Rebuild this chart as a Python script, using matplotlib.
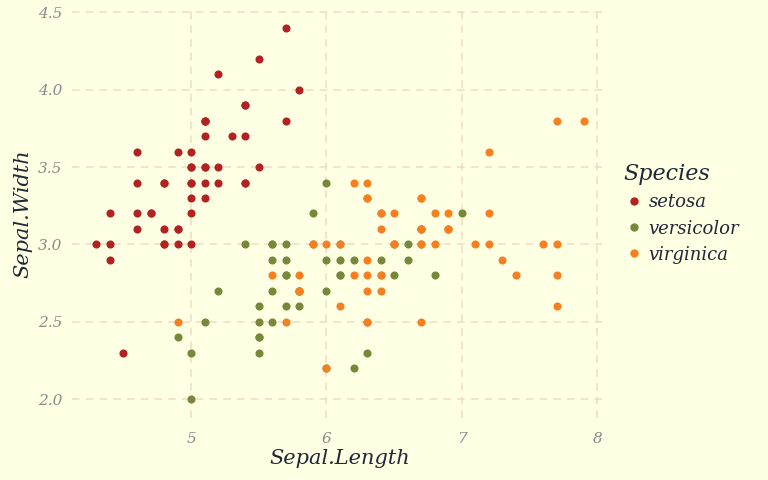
import matplotlib
matplotlib.use("Agg")
import matplotlib.pyplot as plt
from matplotlib.lines import Line2D

setosa_len = [5.1,4.9,4.7,4.6,5.0,5.4,4.6,5.0,4.4,4.9,5.4,4.8,4.8,4.3,5.8,5.7,5.4,5.1,5.7,5.1,
              5.4,5.1,4.6,5.1,4.8,5.0,5.0,5.2,5.2,4.7,4.8,5.4,5.2,5.5,4.9,5.0,5.5,4.9,4.4,5.1,
              5.0,4.5,4.4,5.0,5.1,4.8,5.1,4.6,5.3,5.0]
setosa_wid = [3.5,3.0,3.2,3.1,3.6,3.9,3.4,3.4,2.9,3.1,3.7,3.4,3.0,3.0,4.0,4.4,3.9,3.5,3.8,3.8,
              3.4,3.7,3.6,3.3,3.4,3.0,3.4,3.5,3.4,3.2,3.1,3.4,4.1,4.2,3.1,3.2,3.5,3.6,3.0,3.4,
              3.5,2.3,3.2,3.5,3.8,3.0,3.8,3.2,3.7,3.3]
versi_len = [7.0,6.4,6.9,5.5,6.5,5.7,6.3,4.9,6.6,5.2,5.0,5.9,6.0,6.1,5.6,6.7,5.6,5.8,6.2,5.6,
             5.9,6.1,6.3,6.1,6.4,6.6,6.8,6.7,6.0,5.7,5.5,5.5,5.8,6.0,5.4,6.0,6.7,6.3,5.6,5.5,
             5.5,6.1,5.8,5.0,5.6,5.7,5.7,6.2,5.1,5.7]
versi_wid = [3.2,3.2,3.1,2.3,2.8,2.8,3.3,2.4,2.9,2.7,2.0,3.0,2.2,2.9,2.9,3.1,3.0,2.7,2.2,2.5,
             3.2,2.8,2.5,2.8,2.9,3.0,2.8,3.0,2.9,2.6,2.4,2.4,2.7,2.7,3.0,3.4,3.1,2.3,3.0,2.5,
             2.6,3.0,2.6,2.3,2.7,3.0,2.9,2.9,2.5,2.8]
virg_len = [6.3,5.8,7.1,6.3,6.5,7.6,4.9,7.3,6.7,7.2,6.5,6.4,6.8,5.7,5.8,6.4,6.5,7.7,7.7,6.0,
            6.9,5.6,7.7,6.3,6.7,7.2,6.2,6.1,6.4,7.2,7.4,7.9,6.4,6.3,6.1,7.7,6.3,6.4,6.0,6.9,
            6.7,6.9,5.8,6.8,6.7,6.7,6.3,6.5,6.2,5.9]
virg_wid = [3.3,2.7,3.0,2.9,3.0,3.0,2.5,2.9,2.5,3.6,3.2,2.7,3.0,2.5,2.8,3.2,3.0,3.8,2.6,2.2,
            3.2,2.8,2.8,2.7,3.3,3.2,2.8,3.0,2.8,3.0,2.8,3.8,2.8,2.8,2.6,3.0,3.4,3.1,3.0,3.1,
            3.1,3.1,2.7,3.2,3.3,3.0,2.5,3.0,3.4,3.0]

species = ["setosa", "versicolor", "virginica"]
colors = ["#B22222", "#76893A", "#F77F20"]
x_ticks = [5, 6, 7, 8]
y_ticks = [2.0, 2.5, 3.0, 3.5, 4.0, 4.5]

bg = "#FFFFE3"
font = dict(family="DejaVu Serif", style="italic")

fig = plt.figure(figsize=(7.68, 4.8), dpi=100, facecolor=bg)
ax = fig.add_axes([72/768, 1-418/480, (608-72)/768, (418-9)/480], facecolor=bg)

data = [(setosa_len, setosa_wid), (versi_len, versi_wid), (virg_len, virg_wid)]
for (xs, ys), c in zip(data, colors):
    ax.scatter(xs, ys, s=34, color=c, linewidths=0, zorder=3)

ax.set_xlim(4.12, 8.08)
ax.set_ylim(1.88, 4.52)
ax.set_xticks(x_ticks)
ax.set_yticks(y_ticks)
ax.set_xticklabels([str(v) for v in x_ticks], color="#8A8A8A", fontsize=11, **font)
ax.set_yticklabels([f"{v:.1f}" for v in y_ticks], color="#8A8A8A", fontsize=11, **font)
ax.tick_params(axis="x", length=0, pad=10)
ax.tick_params(axis="y", length=0, pad=7)
ax.grid(True, color="#EEDCC5", linestyle=(0, (5, 4)), linewidth=1.1, zorder=0)
for sp in ax.spines.values():
    sp.set_visible(False)

ax.set_xlabel("Sepal.Length", fontsize=15, color="#1E2838", labelpad=2, **font)
ax.set_ylabel("Sepal.Width", fontsize=15, color="#1E2838", labelpad=4, **font)

handles = [Line2D([], [], marker="o", linestyle="", markersize=6, color=c,
                  markeredgewidth=0) for c in colors]
leg = ax.legend(handles, species, loc="center left", bbox_to_anchor=(1.015, 0.5),
                frameon=False, title="Species", handletextpad=0.2, labelspacing=0.45,
                borderaxespad=0, handlelength=1.2,
                prop=dict(family="DejaVu Serif", style="italic", size=13),
                title_fontproperties=dict(family="DejaVu Serif", style="italic", size=16))
for t in leg.get_texts():
    t.set_color("#1E2838")
leg.get_title().set_color("#1E2838")
leg._legend_box.align = "left"

fig.savefig("out.png", dpi=100, facecolor=bg)
